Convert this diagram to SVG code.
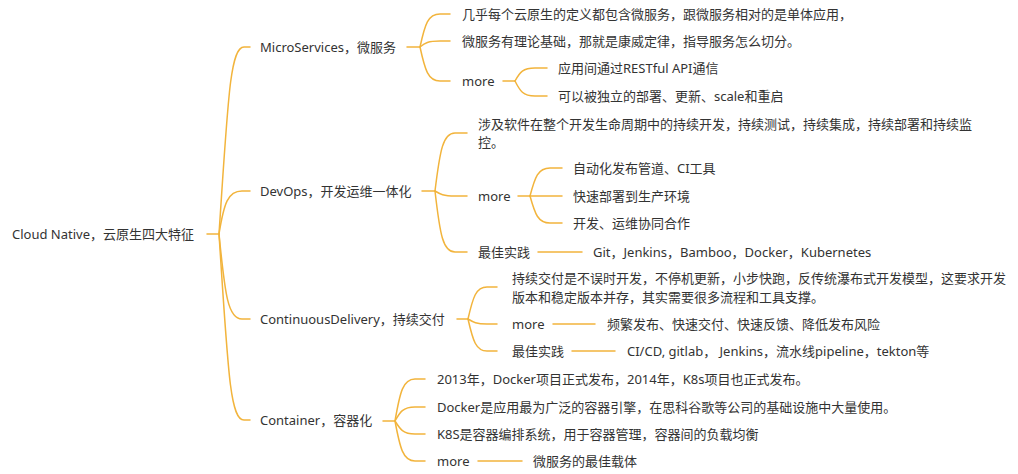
<svg xmlns="http://www.w3.org/2000/svg" width="1018" height="474" viewBox="0 0 1018 474">
<style>
text{font-family:"Noto Sans","Noto Sans CJK SC",sans-serif;font-size:13px;fill:#333;dominant-baseline:central}
.c path,.c line{fill:none;stroke:#F2B43C;stroke-width:1.5;stroke-linecap:round}
</style>
<rect width="1018" height="474" fill="#fff"/>
<g class="c" id="connectors">
<line x1="207" y1="234" x2="219" y2="234"/>
<path d="M219,234 C228,100 230,47 244,47 H250"/>
<path d="M219,234 C224,203 228,191 242,191 H250"/>
<path d="M219,234 C225,295 228,319 242,319 H250"/>
<path d="M219,234 C228,370 230,420 244,420 H250"/>
<line x1="407" y1="47" x2="420" y2="47"/>
<path d="M420,47 C425,24 428,14 440,14 H450"/>
<path d="M420,47 C425,43 428,41 440,41 H450"/>
<path d="M420,47 C425,70 428,81 440,81 H450"/>
<line x1="503" y1="81" x2="515" y2="81"/>
<path d="M515,81 C520,72 523,68 535,68 H547"/>
<path d="M515,81 C520,91 523,96 535,96 H547"/>
<line x1="422" y1="191" x2="435" y2="191"/>
<path d="M435,191 C440,150 443,133 455,133 H467"/>
<path d="M435,191 C440,194 443,196 455,196 H467"/>
<path d="M435,191 C440,235 443,252 455,252 H467"/>
<line x1="518" y1="196" x2="530" y2="196"/>
<path d="M530,196 C535,177 538,168 550,168 H562"/>
<line x1="530" y1="196" x2="562" y2="196"/>
<path d="M530,196 C535,214 538,223 550,223 H562"/>
<line x1="538" y1="252" x2="582" y2="252"/>
<line x1="457" y1="319" x2="468" y2="319"/>
<path d="M468,319 C473,297 476,287 487,287 H497"/>
<path d="M468,319 C473,322 476,324 487,324 H497"/>
<path d="M468,319 C473,341 476,351 487,351 H497"/>
<line x1="553" y1="324" x2="595" y2="324"/>
<line x1="572" y1="351" x2="615" y2="351"/>
<line x1="383" y1="421" x2="395" y2="421"/>
<path d="M395,421 C400,392 403,379 415,379 H425"/>
<path d="M395,421 C400,412 403,407 415,407 H425"/>
<path d="M395,421 C400,429 403,434 415,434 H425"/>
<path d="M395,421 C400,448 403,461 415,461 H425"/>
<line x1="478" y1="461" x2="522" y2="461"/>
</g>
<g id="root"><text x="12" y="234">Cloud Native，云原生四大特征</text></g>
<g id="microservices"><text x="260" y="47">MicroServices，微服务</text></g>
<g id="ms-1"><text x="462" y="14">几乎每个云原生的定义都包含微服务，跟微服务相对的是单体应用，</text></g>
<g id="ms-2"><text x="462" y="41">微服务有理论基础，那就是康威定律，指导服务怎么切分。</text></g>
<g id="ms-more"><text x="462" y="81">more</text></g>
<g id="ms-more-1"><text x="558" y="68">应用间通过RESTful API通信</text></g>
<g id="ms-more-2"><text x="558" y="96">可以被独立的部署、更新、scale和重启</text></g>
<g id="devops"><text x="260" y="191">DevOps，开发运维一体化</text></g>
<g id="do-1"><text x="478" y="124">涉及软件在整个开发生命周期中的持续开发，持续测试，持续集成，持续部署和持续监</text><text x="478" y="142">控。</text></g>
<g id="do-more"><text x="478" y="196">more</text></g>
<g id="do-more-1"><text x="573" y="168">自动化发布管道、CI工具</text></g>
<g id="do-more-2"><text x="573" y="196">快速部署到生产环境</text></g>
<g id="do-more-3"><text x="573" y="223">开发、运维协同合作</text></g>
<g id="do-best"><text x="478" y="252">最佳实践</text></g>
<g id="do-best-1"><text x="593" y="252">Git，Jenkins，Bamboo，Docker，Kubernetes</text></g>
<g id="cd"><text x="260" y="319">ContinuousDelivery，持续交付</text></g>
<g id="cd-1"><text x="512" y="278">持续交付是不误时开发，不停机更新，小步快跑，反传统瀑布式开发模型，这要求开发</text><text x="512" y="297">版本和稳定版本并存，其实需要很多流程和工具支撑。</text></g>
<g id="cd-more"><text x="512" y="324">more</text></g>
<g id="cd-more-1"><text x="607" y="324">频繁发布、快速交付、快速反馈、降低发布风险</text></g>
<g id="cd-best"><text x="512" y="351">最佳实践</text></g>
<g id="cd-best-1"><text x="627" y="351">CI/CD, gitlab， Jenkins，流水线pipeline，tekton等</text></g>
<g id="container"><text x="260" y="420">Container，容器化</text></g>
<g id="ct-1"><text x="437" y="379">2013年，Docker项目正式发布，2014年，K8s项目也正式发布。</text></g>
<g id="ct-2"><text x="437" y="407">Docker是应用最为广泛的容器引擎，在思科谷歌等公司的基础设施中大量使用。</text></g>
<g id="ct-3"><text x="437" y="434">K8S是容器编排系统，用于容器管理，容器间的负载均衡</text></g>
<g id="ct-more"><text x="437" y="461">more</text></g>
<g id="ct-more-1"><text x="533" y="461">微服务的最佳载体</text></g>
</svg>
